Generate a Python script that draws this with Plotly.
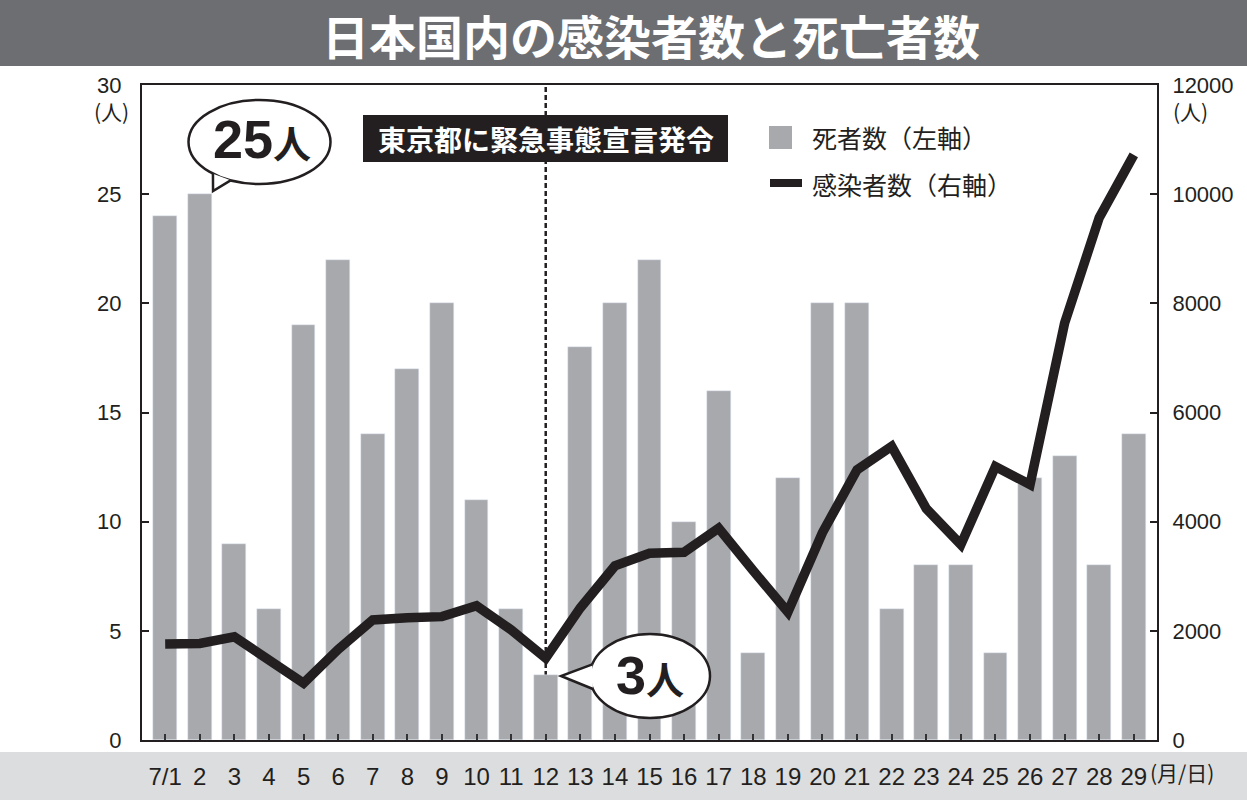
import math
import plotly.graph_objects as go

# ---------------- data ----------------
days = list(range(1, 30))
day_labels = ["7/1"] + [str(d) for d in range(2, 30)]
deaths = [24, 25, 9, 6, 19, 22, 14, 17, 20, 11, 6, 3, 18, 20, 22, 10, 16, 4, 12,
          20, 20, 6, 8, 8, 4, 12, 13, 8, 14]
infections = [1760, 1770, 1890, 1480, 1040, 1660, 2200, 2240, 2260, 2460, 2020, 1500,
              2420, 3190, 3420, 3440, 3880, 3100, 2345, 3800, 4950, 5380, 4240, 3580,
              5010, 4680, 7640, 9570, 10720]
left_ticks = [0, 5, 10, 15, 20, 25, 30]
right_ticks = [0, 2000, 4000, 6000, 8000, 10000, 12000]
right_tick_labels = [str(v) for v in right_ticks]

title = "日本国内の感染者数と死亡者数"
event_label = "東京都に緊急事態宣言発令"
event_day = 12
legend_bar = "死者数（左軸）"
legend_line = "感染者数（右軸）"

# ---------------- layout helpers (pixel -> paper) ----------------
W, H = 1247, 800
L, R, T, B = 142, 1157, 85, 740


def px(x):
    return (x - L) / (R - L)


def py(y):
    return (B - y) / (B - T)


def ell_pt(cx, cy, a, b, deg):
    t = math.radians(deg)
    return cx + a * math.cos(t), cy + b * math.sin(t)


BAR_C = "#a7a9ac"
INK = "#231f20"
CJK = "Noto Sans CJK JP"
NUM = "Liberation Sans, Arial, sans-serif"
NARROW = "Liberation Sans Narrow, Liberation Sans, Arial, sans-serif"

fig = go.Figure()
fig.add_trace(go.Bar(x=days, y=deaths, marker_color=BAR_C, width=0.69,
                     name=legend_bar, showlegend=False))
fig.add_trace(go.Scatter(x=days, y=infections, yaxis="y2", mode="lines",
                         line=dict(color=INK, width=9.5), name=legend_line,
                         showlegend=False))

shapes = []
annotations = []

# title band
shapes.append(dict(type="rect", xref="paper", yref="paper", x0=px(0), x1=px(W),
                   y0=py(66), y1=py(0), fillcolor="#6d6e71", line_width=0, layer="above"))
annotations.append(dict(xref="paper", yref="paper", x=px(651), y=py(34), text=title,
                        showarrow=False, xanchor="center", yanchor="middle",
                        font=dict(family=CJK, size=47, color="white", weight="bold")))
# bottom band
shapes.append(dict(type="rect", xref="paper", yref="paper", x0=px(0), x1=px(W),
                   y0=py(H), y1=py(752), fillcolor="#dcdddf", line_width=0, layer="below"))

# event dashed line
shapes.append(dict(type="line", xref="x", yref="y", x0=event_day, x1=event_day,
                   y0=0, y1=30, line=dict(color=INK, width=2.5, dash="5px,3px"),
                   layer="below"))
# event box
shapes.append(dict(type="rect", xref="paper", yref="paper", x0=px(363), x1=px(728),
                   y0=py(162), y1=py(115), fillcolor=INK, line_width=0, layer="above"))
annotations.append(dict(xref="paper", yref="paper", x=px(545.5), y=py(139),
                        text=event_label, showarrow=False, xanchor="center",
                        yanchor="middle",
                        font=dict(family=CJK, size=28, color="white", weight="bold")))

# speech bubbles
def bubble(cx, cy, a, b, deg1, deg2, tip):
    shapes.append(dict(type="circle", xref="paper", yref="paper",
                       x0=px(cx - a), x1=px(cx + a), y0=py(cy + b), y1=py(cy - b),
                       fillcolor="white", line=dict(color=INK, width=2.5),
                       layer="above"))
    p1 = ell_pt(cx, cy, a, b, deg1)
    p2 = ell_pt(cx, cy, a, b, deg2)
    path = "M {:.4f},{:.4f} L {:.4f},{:.4f} L {:.4f},{:.4f}".format(
        px(p1[0]), py(p1[1]), px(tip[0]), py(tip[1]), px(p2[0]), py(p2[1]))
    shapes.append(dict(type="path", xref="paper", yref="paper", path=path,
                       fillcolor="white", line=dict(color=INK, width=2.5),
                       layer="above"))


bubble(259.5, 142, 71, 42, 131, 114, (213, 191))
bubble(650, 676, 60, 42, 196, 162, (561, 676))

big = dict(family=NUM, size=54, color=INK, weight="bold")
annotations.append(dict(xref="paper", yref="paper", x=px(262), y=py(139),
                        text="25<span style='font-size:38px;font-family:Noto Sans CJK JP'>人</span>",
                        showarrow=False, xanchor="center", yanchor="middle", font=big))
annotations.append(dict(xref="paper", yref="paper", x=px(650), y=py(675),
                        text="3<span style='font-size:38px;font-family:Noto Sans CJK JP'>人</span>",
                        showarrow=False, xanchor="center", yanchor="middle", font=big))

# legend (manual)
shapes.append(dict(type="rect", xref="paper", yref="paper", x0=px(769), x1=px(792),
                   y0=py(149), y1=py(126), fillcolor=BAR_C, line_width=0, layer="above"))
shapes.append(dict(type="line", xref="paper", yref="paper", x0=px(770), x1=px(802),
                   y0=py(183), y1=py(183), line=dict(color=INK, width=8), layer="above"))
annotations.append(dict(xref="paper", yref="paper", x=px(810), y=py(137), text=legend_bar,
                        showarrow=False, xanchor="left", yanchor="middle",
                        font=dict(family=CJK, size=25, color=INK)))
annotations.append(dict(xref="paper", yref="paper", x=px(810), y=py(184), text=legend_line,
                        showarrow=False, xanchor="left", yanchor="middle",
                        font=dict(family=CJK, size=25, color=INK)))

# unit labels
annotations.append(dict(xref="paper", yref="paper", x=px(111), y=py(111), text="(人)",
                        showarrow=False, xanchor="center", yanchor="middle",
                        font=dict(family=CJK, size=21, color=INK)))
annotations.append(dict(xref="paper", yref="paper", x=px(1190), y=py(111), text="(人)",
                        showarrow=False, xanchor="center", yanchor="middle",
                        font=dict(family=CJK, size=21, color=INK)))
annotations.append(dict(xref="paper", yref="paper", x=px(1148), y=py(772), text="(月/日)",
                        showarrow=False, xanchor="left", yanchor="middle",
                        font=dict(family=CJK, size=21, color=INK)))

fig.update_layout(
    width=W, height=H,
    margin=dict(l=L, r=W - R, t=T, b=H - B, pad=0, autoexpand=False),
    paper_bgcolor="white", plot_bgcolor="white",
    bargap=0,
    shapes=shapes, annotations=annotations,
    xaxis=dict(range=[0.33, 29.67], tickmode="array", tickvals=days, ticktext=day_labels,
               ticks="inside", ticklen=6, tickwidth=1.5, tickcolor="#333",
               showline=True, linecolor=INK, linewidth=2, mirror=True,
               showgrid=False, zeroline=False, ticklabelstandoff=14, automargin=False,
               tickfont=dict(family=NARROW, size=24, color=INK)),
    yaxis=dict(range=[0, 30], tickmode="array", tickvals=left_ticks,
               ticks="inside", ticklen=7, tickwidth=1.5, tickcolor=INK,
               showline=True, linecolor=INK, linewidth=2, mirror=True,
               showgrid=False, zeroline=False, ticklabelstandoff=14, automargin=False,
               tickfont=dict(family=NUM, size=22, color=INK)),
    yaxis2=dict(range=[0, 12000], overlaying="y", side="right", tickmode="array",
                tickvals=right_ticks, ticktext=right_tick_labels, ticks="inside",
                ticklen=7, tickwidth=1.5,
                tickcolor=INK, showline=True, linecolor=INK, linewidth=2,
                showgrid=False, zeroline=False, ticklabelstandoff=9, automargin=False,
                tickfont=dict(family=NUM, size=22, color=INK)),
)

fig.write_html("out.html", config={"displayModeBar": False},
               post_script="document.body.style.margin='0';")
